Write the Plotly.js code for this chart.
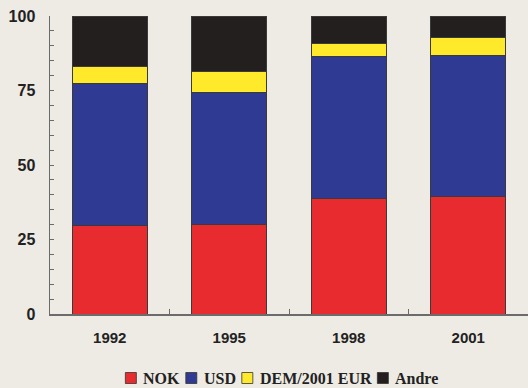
<!DOCTYPE html>
<html>
<head>
<meta charset="utf-8">
<script src="https://cdn.plot.ly/plotly-3.0.1.min.js"></script>
<style>
  html, body { margin: 0; padding: 0; background: #EEEBE4; }
  #chart { width: 528px; height: 388px; }
</style>
</head>
<body>
<div id="chart"></div>
<script>
// Currency composition, share in percent
const years = ['1992', '1995', '1998', '2001'];
const nok = [29.6, 29.9, 38.9, 39.4];
const usd = [47.9, 44.3, 47.4, 47.3];
const dem = [5.6, 7.2, 4.6, 6.1];
const andre = [16.9, 18.6, 9.1, 7.2];

const seriesNames = ['NOK', 'USD', 'DEM/2001 EUR', 'Andre'];
const seriesValues = [nok, usd, dem, andre];
const seriesColors = ['#E82B2F', '#2F3A93', '#FFE92B', '#231F1E'];

const W = 528, H = 388;
const margin = { l: 50, r: 0, t: 16, b: 74 };
const plotW = W - margin.l - margin.r;
const plotH = H - margin.t - margin.b;

// page pixels -> paper coordinates of the plot area
const px = x => (x - margin.l) / plotW;
const py = y => (H - margin.b - y) / plotH;

const traces = seriesValues.map((vals, i) => ({
  type: 'bar',
  name: seriesNames[i],
  x: years,
  y: vals,
  marker: { color: seriesColors[i], line: { color: '#3a3a3a', width: 1 } },
  hoverinfo: 'skip',
  showlegend: false
}));

// Compact legend row below the axis: small squares followed by bold serif labels
const legendFont = { family: 'Liberation Serif', size: 16, color: '#222', weight: 'bold' };
const ctx = document.createElement('canvas').getContext('2d');
ctx.font = 'bold 16px "Liberation Serif"';
const sq = 11, sqGap = 5, itemGap = 8;
const widths = seriesNames.map(n => ctx.measureText(n).width);
const total = widths.reduce((s, w) => s + sq + sqGap + w, 0) + itemGap * (seriesNames.length - 1);
const legendCenterX = 281, legendMidY = 378;

const shapes = [], annotations = [];
let cx = legendCenterX - total / 2;
seriesNames.forEach((n, i) => {
  shapes.push({
    type: 'rect', xref: 'paper', yref: 'paper',
    x0: px(cx), x1: px(cx + sq),
    y0: py(legendMidY + sq / 2), y1: py(legendMidY - sq / 2),
    fillcolor: seriesColors[i], line: { color: '#333', width: 0.8 }
  });
  annotations.push({
    xref: 'paper', yref: 'paper',
    x: px(cx + sq + sqGap), y: py(legendMidY),
    xanchor: 'left', yanchor: 'middle', showarrow: false,
    text: n, font: legendFont
  });
  cx += sq + sqGap + widths[i] + itemGap;
});

const layout = {
  width: W,
  height: H,
  barmode: 'stack',
  bargap: 0.37,
  paper_bgcolor: '#EEEBE4',
  plot_bgcolor: '#EEEBE4',
  margin: margin,
  showlegend: false,
  shapes: shapes,
  annotations: annotations,
  xaxis: {
    type: 'category',
    showline: true, linecolor: '#6b6b6b', linewidth: 1.5,
    ticks: 'inside', tickson: 'boundaries', ticklen: 5, tickcolor: '#6b6b6b',
    showgrid: false, zeroline: false,
    tickfont: { family: 'Liberation Sans', size: 15, color: '#222', weight: 'bold' },
    ticklabelstandoff: 9
  },
  yaxis: {
    range: [0, 100],
    tickvals: [0, 25, 50, 75, 100],
    showline: true, linecolor: '#6b6b6b', linewidth: 1.5,
    ticks: 'inside', ticklen: 4, tickcolor: '#6b6b6b',
    minor: { dtick: 5, ticks: 'inside', ticklen: 4, tickcolor: '#6b6b6b' },
    showgrid: false, zeroline: false,
    tickfont: { family: 'Liberation Sans', size: 16, color: '#222', weight: 'bold' },
    ticklabelstandoff: 10
  }
};

Plotly.newPlot('chart', traces, layout, { displayModeBar: false, staticPlot: true });
</script>
</body>
</html>
